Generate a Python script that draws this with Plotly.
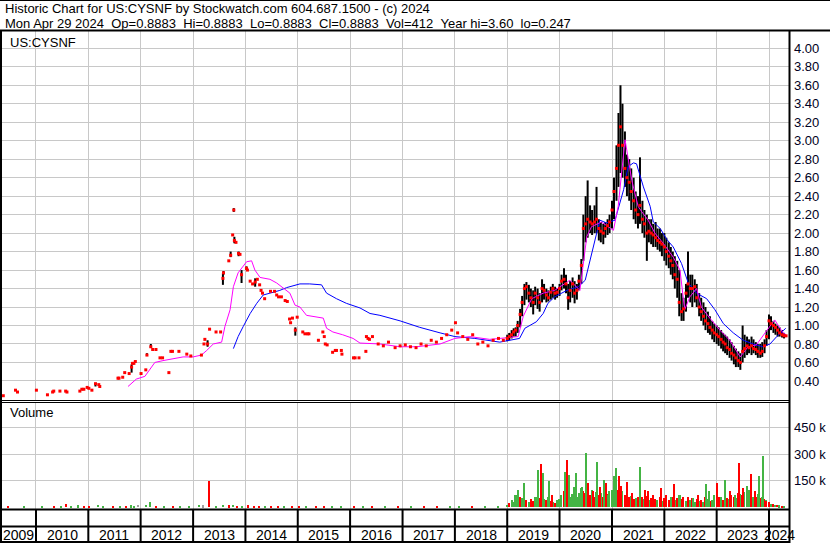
import plotly.graph_objects as go

W, H = 830, 543

# ---------------- data ----------------
header_line1 = "Historic Chart for US:CYSNF by Stockwatch.com 604.687.1500 - (c) 2024"
header_line2 = "Mon Apr 29 2024  Op=0.8883  Hi=0.8883  Lo=0.8883  Cl=0.8883  Vol=412  Year hi=3.60  lo=0.247"
symbol_label = "US:CYSNF"
volume_label = "Volume"

# sparse early trades (single prints)
early_dates = [
    "2009-05-18", "2009-08-11", "2009-08-25", "2010-01-04", "2010-03-22", "2010-04-27", "2010-05-05",
    "2010-06-17", "2010-07-27", "2010-08-05", "2010-11-03", "2010-11-17", "2010-12-01", "2010-12-24",
    "2011-01-05", "2011-01-26", "2011-02-20", "2011-03-15", "2011-03-22", "2011-07-27", "2011-08-03",
    "2011-08-29", "2011-09-12", "2011-10-13", "2011-10-30", "2011-11-05", "2011-11-15", "2011-11-25",
    "2012-01-04", "2012-02-06", "2012-02-14", "2012-03-12", "2012-03-25", "2012-04-17", "2012-05-15",
    "2012-06-02", "2012-07-16", "2012-07-30", "2012-08-10", "2012-09-24", "2012-11-18", "2012-12-16",
    "2013-02-28", "2013-03-18", "2013-03-24", "2013-04-12", "2013-04-26", "2013-06-10", "2013-07-12",
    "2013-07-28", "2013-08-01", "2013-09-07", "2013-09-20", "2013-10-04", "2013-10-12", "2013-10-16",
    "2013-10-27", "2013-11-14", "2013-11-24", "2013-12-05", "2014-01-08", "2014-01-15", "2014-02-03",
    "2014-02-20", "2014-03-10", "2014-03-25", "2014-04-10", "2014-04-20", "2014-04-30", "2014-05-15",
    "2014-06-25", "2014-07-23", "2014-08-07", "2014-08-20", "2014-09-09", "2014-10-05", "2014-10-20",
    "2014-11-05", "2014-11-12", "2014-11-25", "2014-12-15", "2014-12-28", "2015-02-05", "2015-02-20",
    "2015-03-10", "2015-03-20", "2015-05-25", "2015-06-25", "2015-07-05", "2015-07-12", "2015-07-25",
    "2015-09-01", "2015-09-20", "2015-09-28", "2015-11-01", "2015-11-05", "2016-01-25", "2016-02-05",
    "2016-03-03", "2016-04-20", "2016-04-24", "2016-05-05", "2016-05-15", "2016-06-05", "2016-07-15",
    "2016-08-20", "2016-09-25", "2016-11-10", "2016-12-15", "2017-01-20", "2017-02-25", "2017-04-05",
    "2017-05-10", "2017-06-15", "2017-07-20", "2017-08-25", "2017-09-30", "2017-11-05", "2017-12-10",
    "2018-01-05", "2018-01-20", "2018-02-25", "2018-04-01", "2018-05-05", "2018-06-10", "2018-07-15",
    "2018-08-20", "2018-09-25", "2018-11-01", "2018-12-05",
]
early_close = [
    0.24, 0.30, 0.28, 0.30, 0.25, 0.28, 0.29,
    0.29, 0.29, 0.28, 0.29, 0.31, 0.31, 0.33,
    0.32, 0.30, 0.37, 0.36, 0.34, 0.43, 0.43,
    0.44, 0.49, 0.48, 0.55, 0.59, 0.59, 0.61,
    0.48, 0.52, 0.68, 0.77, 0.74, 0.74, 0.65,
    0.65, 0.49, 0.72, 0.72, 0.72, 0.69, 0.67,
    0.68, 0.80, 0.85, 0.80, 0.96, 0.93, 0.93,
    1.51, 1.57, 1.70, 1.76, 1.98, 2.25, 1.92,
    1.90, 1.78, 1.77, 1.55, 1.62, 1.60, 1.48,
    1.45, 1.47, 1.50, 1.44, 1.38, 1.35, 1.29,
    1.37, 1.37, 1.33, 1.31, 1.31, 1.27, 1.26,
    1.07, 1.03, 1.08, 0.95, 1.09, 0.93, 0.91,
    0.91, 0.91, 0.84, 0.93, 0.88, 0.80, 0.79,
    0.71, 0.73, 0.73, 0.73, 0.69, 0.65, 0.65,
    0.65, 0.72, 0.88, 0.86, 0.85, 0.88, 0.80,
    0.78, 0.82, 0.76, 0.78, 0.79, 0.77, 0.76,
    0.80, 0.78, 0.84, 0.82, 0.86, 0.90, 0.95,
    1.03, 0.92, 0.88, 0.85, 0.90, 0.80, 0.82,
    0.78, 0.84, 0.86, 0.84,
]

# early days that traded a range (black bars)
early_bar_dates = ["2011-02-20", "2011-10-30", "2012-02-14", "2012-03-12", "2013-04-12", "2013-07-28",
                   "2013-08-01", "2013-09-20", "2013-10-12", "2013-10-16", "2013-11-14", "2013-12-05",
                   "2014-01-08", "2014-03-10", "2014-11-05", "2014-12-15"]
early_bar_high = [0.38, 0.58, 0.70, 0.80, 0.84, 1.57, 1.59, 1.80, 2.27, 1.96, 1.80, 1.60, 1.64, 1.51, 1.08, 0.98]
early_bar_low = [0.34, 0.49, 0.67, 0.76, 0.77, 1.44, 1.55, 1.74, 2.23, 1.89, 1.75, 1.46, 1.60, 1.42, 1.06, 0.89]

# active trading 2019-2024 (half-monthly high / low / close)
recent_dates = [
    "2019-01-01", "2019-01-15", "2019-02-01", "2019-02-15", "2019-03-01", "2019-03-15", "2019-04-01", "2019-04-15",
    "2019-05-01", "2019-05-15", "2019-06-01", "2019-06-15", "2019-07-01", "2019-07-15", "2019-08-01", "2019-08-15",
    "2019-09-01", "2019-09-15", "2019-10-01", "2019-10-15", "2019-11-01", "2019-11-15", "2019-12-01", "2019-12-15",
    "2020-01-01", "2020-01-15", "2020-02-01", "2020-02-15", "2020-03-01", "2020-03-15", "2020-04-01", "2020-04-15",
    "2020-05-01", "2020-05-15", "2020-06-01", "2020-06-15", "2020-07-01", "2020-07-15", "2020-08-01", "2020-08-15",
    "2020-09-01", "2020-09-15", "2020-10-01", "2020-10-15", "2020-11-01", "2020-11-15", "2020-12-01", "2020-12-15",
    "2021-01-01", "2021-01-15", "2021-02-01", "2021-02-15", "2021-03-01", "2021-03-15", "2021-04-01", "2021-04-15",
    "2021-05-01", "2021-05-15", "2021-06-01", "2021-06-15", "2021-07-01", "2021-07-15", "2021-08-01", "2021-08-15",
    "2021-09-01", "2021-09-15", "2021-10-01", "2021-10-15", "2021-11-01", "2021-11-15", "2021-12-01", "2021-12-15",
    "2022-01-01", "2022-01-15", "2022-02-01", "2022-02-15", "2022-03-01", "2022-03-15", "2022-04-01", "2022-04-15",
    "2022-05-01", "2022-05-15", "2022-06-01", "2022-06-15", "2022-07-01", "2022-07-15", "2022-08-01", "2022-08-15",
    "2022-09-01", "2022-09-15", "2022-10-01", "2022-10-15", "2022-11-01", "2022-11-15", "2022-12-01", "2022-12-15",
    "2023-01-01", "2023-01-15", "2023-02-01", "2023-02-15", "2023-03-01", "2023-03-15", "2023-04-01", "2023-04-15",
    "2023-05-01", "2023-05-15", "2023-06-01", "2023-06-15", "2023-07-01", "2023-07-15", "2023-08-01", "2023-08-15",
    "2023-09-01", "2023-09-15", "2023-10-01", "2023-10-15", "2023-11-01", "2023-11-15", "2023-12-01", "2023-12-15",
    "2024-01-01", "2024-01-15", "2024-02-01", "2024-02-15", "2024-03-01", "2024-03-15", "2024-04-01", "2024-04-15",
    "2024-04-29",
]
recent_high = [
    0.90, 0.92, 0.95, 0.97, 0.98, 1.05, 1.18, 1.32, 1.45, 1.47, 1.44, 1.40, 1.38, 1.42, 1.40, 1.35,
    1.50, 1.45, 1.40, 1.38, 1.42, 1.45, 1.42, 1.40,
    1.45, 1.55, 1.62, 1.55, 1.45, 1.48, 1.52, 1.48, 1.45, 1.55, 1.72, 2.20, 2.40, 2.57, 2.30, 2.25,
    2.30, 2.50, 2.15, 2.12, 2.10, 2.12, 2.15, 2.20,
    2.35, 2.60, 2.95, 3.30, 3.60, 3.40, 3.10, 2.85, 2.80, 2.70, 2.60, 2.45, 2.40, 2.82, 2.35, 2.25,
    2.20, 2.15, 2.15, 2.10, 2.12, 2.05, 2.05, 2.00,
    2.00, 1.95, 1.90, 1.85, 1.80, 1.75, 1.70, 1.60, 1.35, 1.30, 1.45, 1.80, 1.55, 1.55, 1.50, 1.45,
    1.35, 1.30, 1.25, 1.20, 1.15, 1.10, 1.05, 1.02,
    1.00, 0.98, 0.95, 0.92, 0.90, 0.88, 0.85, 0.82, 0.78, 0.75, 0.72, 0.70, 1.00, 0.90, 0.88, 0.85,
    0.88, 0.85, 0.82, 0.80, 0.80, 0.82, 0.85, 0.95,
    1.12, 1.10, 1.05, 1.02, 1.00, 0.98, 0.95, 0.92, 0.89,
]
recent_low = [
    0.83, 0.84, 0.86, 0.88, 0.88, 0.92, 0.98, 1.10, 1.22, 1.28, 1.25, 1.20, 1.12, 1.22, 1.18, 1.15,
    1.25, 1.28, 1.25, 1.26, 1.28, 1.30, 1.28, 1.30,
    1.32, 1.38, 1.40, 1.35, 1.17, 1.25, 1.30, 1.24, 1.28, 1.38, 1.45, 1.70, 1.90, 1.95, 2.00, 1.98,
    2.00, 2.00, 1.92, 1.90, 1.88, 1.95, 1.98, 2.00,
    2.05, 2.15, 2.35, 2.50, 2.65, 2.60, 2.50, 2.40, 2.35, 2.25, 2.15, 2.10, 2.05, 2.10, 2.00, 1.95,
    1.70, 1.90, 1.88, 1.85, 1.85, 1.82, 1.80, 1.75,
    1.70, 1.65, 1.62, 1.55, 1.50, 1.40, 1.30, 1.10, 1.05, 1.05, 1.15, 1.30, 1.25, 1.20, 1.25, 1.20,
    1.10, 1.05, 1.00, 0.95, 0.92, 0.90, 0.85, 0.82,
    0.80, 0.78, 0.75, 0.72, 0.70, 0.68, 0.65, 0.62, 0.58, 0.55, 0.55, 0.52, 0.60, 0.65, 0.68, 0.70,
    0.68, 0.70, 0.68, 0.65, 0.65, 0.66, 0.70, 0.78,
    0.85, 0.95, 0.92, 0.90, 0.88, 0.88, 0.87, 0.86, 0.89,
]
recent_close = [
    0.86, 0.88, 0.90, 0.93, 0.95, 1.00, 1.12, 1.25, 1.40, 1.42, 1.35, 1.30, 1.25, 1.35, 1.30, 1.25,
    1.40, 1.38, 1.33, 1.30, 1.36, 1.40, 1.35, 1.36,
    1.40, 1.48, 1.50, 1.45, 1.30, 1.38, 1.45, 1.35, 1.38, 1.48, 1.65, 2.05, 2.10, 2.15, 2.12, 2.10,
    2.12, 2.15, 2.05, 2.02, 2.00, 2.05, 2.08, 2.12,
    2.25, 2.45, 2.70, 2.95, 3.15, 2.95, 2.70, 2.60, 2.55, 2.45, 2.35, 2.25, 2.20, 2.30, 2.15, 2.10,
    2.00, 2.02, 2.00, 1.98, 1.95, 1.92, 1.90, 1.88,
    1.85, 1.80, 1.75, 1.70, 1.65, 1.55, 1.50, 1.25, 1.15, 1.18, 1.35, 1.45, 1.40, 1.40, 1.42, 1.30,
    1.20, 1.15, 1.10, 1.05, 1.02, 0.98, 0.95, 0.92,
    0.90, 0.88, 0.85, 0.82, 0.80, 0.76, 0.74, 0.70, 0.68, 0.65, 0.62, 0.60, 0.72, 0.75, 0.78, 0.76,
    0.78, 0.75, 0.74, 0.72, 0.70, 0.72, 0.78, 0.88,
    1.05, 1.02, 1.00, 0.98, 0.95, 0.92, 0.90, 0.89, 0.8883,
]

# short moving average (magenta)
ma_short_dates = [
    "2011-10-05", "2011-11-06", "2011-12-02", "2012-01-31", "2012-02-21", "2012-03-18", "2012-04-09",
    "2012-06-05", "2012-08-14", "2012-10-23", "2013-01-01", "2013-02-28", "2013-04-06", "2013-05-22",
    "2013-07-19", "2013-08-11", "2013-09-16", "2013-10-09", "2013-11-11", "2013-12-17", "2014-01-09",
    "2014-02-13", "2014-03-08", "2014-04-13", "2014-06-21", "2014-08-07", "2014-09-22", "2014-11-07",
    "2014-12-13", "2015-01-16", "2015-03-03", "2015-06-28", "2015-07-21", "2015-09-03", "2015-11-10",
    "2016-01-22", "2016-03-10", "2016-07-27", "2016-12-15", "2017-04-10", "2017-09-20", "2018-01-01",
    "2018-04-15", "2018-09-01", "2018-11-10", "2019-03-18", "2019-04-23", "2019-06-21", "2019-09-09",
    "2019-11-28", "2020-03-13", "2020-05-22", "2020-07-09", "2020-08-11", "2020-10-19", "2021-01-11",
    "2021-02-13", "2021-04-02", "2021-05-19", "2021-07-02", "2021-07-28", "2021-09-10", "2021-10-27",
    "2021-12-24", "2022-03-04", "2022-04-20", "2022-05-23", "2022-06-28", "2022-08-14", "2022-09-16",
    "2022-11-14", "2023-01-23", "2023-04-02", "2023-06-14", "2023-08-08", "2023-10-05", "2023-12-14",
    "2024-02-10", "2024-04-08", "2024-04-29",
]
ma_short_vals = [
    0.34, 0.39, 0.42, 0.45, 0.50, 0.55, 0.60,
    0.62, 0.64, 0.66, 0.66, 0.68, 0.73, 0.80,
    0.82, 0.99, 1.17, 1.42, 1.57, 1.65, 1.69,
    1.70, 1.60, 1.52, 1.50, 1.46, 1.40, 1.35,
    1.22, 1.20, 1.11, 1.08, 0.97, 0.93, 0.90,
    0.86, 0.81, 0.80, 0.77, 0.77, 0.80, 0.86,
    0.88, 0.85, 0.86, 0.88, 1.10, 1.29, 1.35,
    1.38, 1.49, 1.38, 1.96, 2.07, 2.12, 2.03,
    2.29, 3.01, 2.57, 2.29, 2.23, 2.14, 2.00,
    1.89, 1.74, 1.60, 1.17, 1.31, 1.40, 1.20,
    1.08, 0.95, 0.84, 0.66, 0.77, 0.79, 0.94,
    1.06, 0.92, 0.90,
]

# long moving average (blue)
ma_long_dates = [
    "2013-10-09", "2013-11-11", "2013-12-17", "2014-02-03", "2014-03-21", "2014-05-05", "2014-06-21",
    "2014-08-29", "2014-10-15", "2014-11-28", "2015-01-16", "2015-03-25", "2015-06-16", "2015-07-21",
    "2015-09-28", "2015-12-06", "2016-03-10", "2016-05-19", "2016-07-27", "2016-12-15", "2017-05-01",
    "2017-09-20", "2018-01-01", "2018-05-20", "2018-11-10", "2019-03-28", "2019-05-04", "2019-07-23",
    "2019-09-09", "2019-10-12", "2019-11-28", "2020-02-21", "2020-05-12", "2020-06-28", "2020-08-11",
    "2020-10-08", "2020-11-24", "2021-01-22", "2021-03-23", "2021-04-23", "2021-05-31", "2021-06-21",
    "2021-08-08", "2021-09-24", "2021-10-16", "2021-12-03", "2022-01-19", "2022-03-04", "2022-05-01",
    "2022-06-17", "2022-08-14", "2022-10-23", "2022-12-20", "2023-02-17", "2023-04-27", "2023-07-05",
    "2023-09-13", "2023-11-19", "2024-01-08", "2024-02-24", "2024-04-27",
]
ma_long_vals = [
    0.75, 0.88, 0.99, 1.13, 1.24, 1.33, 1.35,
    1.38, 1.41, 1.43, 1.45, 1.45, 1.44, 1.35,
    1.29, 1.24, 1.19, 1.13, 1.11, 1.05, 0.98,
    0.92, 0.88, 0.86, 0.82, 0.86, 0.97, 1.04,
    1.13, 1.24, 1.31, 1.38, 1.42, 1.49, 1.78,
    2.14, 2.11, 2.14, 2.47, 2.72, 2.76, 2.75,
    2.50, 2.29, 2.12, 2.05, 1.93, 1.85, 1.67,
    1.46, 1.35, 1.29, 1.17, 1.02, 0.92, 0.84,
    0.80, 0.77, 0.80, 0.88, 0.97,
]

# daily volume sample (u = up day, d = down day, n = unchanged)
vol_dates = [
    "2009-06-20", "2009-10-10", "2010-02-15", "2010-05-10", "2010-06-25", "2010-07-27", "2010-09-05",
    "2010-10-20", "2010-12-01", "2011-01-10", "2011-03-08", "2011-04-15", "2011-06-20", "2011-08-10",
    "2011-09-20", "2011-10-25", "2011-11-20", "2011-12-15", "2012-02-10", "2012-03-08", "2012-04-20",
    "2012-06-10", "2012-08-15", "2012-10-01", "2012-12-01", "2013-02-10", "2013-03-15", "2013-04-20",
    "2013-06-10", "2013-08-01", "2013-09-10", "2013-10-05", "2013-11-01", "2013-12-10", "2014-01-20",
    "2014-03-01", "2014-04-10", "2014-05-20", "2014-07-01", "2014-08-15", "2014-10-01", "2014-11-20",
    "2015-01-10", "2015-03-01", "2015-05-10", "2015-07-01", "2015-09-01", "2015-11-01", "2016-02-01",
    "2016-04-01", "2016-06-01", "2016-09-01", "2016-12-01", "2017-03-01", "2017-06-01", "2017-09-01",
    "2017-12-01", "2018-02-01", "2018-05-01", "2018-08-01", "2018-11-01",
    "2019-01-01", "2019-01-15", "2019-02-01", "2019-02-15", "2019-03-01", "2019-03-15", "2019-04-01", "2019-04-15",
    "2019-05-01", "2019-05-15", "2019-06-01", "2019-06-15", "2019-07-01", "2019-07-15", "2019-08-01", "2019-08-15",
    "2019-09-01", "2019-09-15", "2019-10-01", "2019-10-15", "2019-11-01", "2019-11-15", "2019-12-01", "2019-12-15",
    "2020-01-01", "2020-01-15", "2020-02-01", "2020-02-15", "2020-03-01", "2020-03-15", "2020-04-01", "2020-04-15",
    "2020-05-01", "2020-05-15", "2020-06-01", "2020-06-15", "2020-07-01", "2020-07-15", "2020-08-01", "2020-08-15",
    "2020-09-01", "2020-09-15", "2020-10-01", "2020-10-15", "2020-11-01", "2020-11-15", "2020-12-01", "2020-12-15",
    "2021-01-01", "2021-01-15", "2021-02-01", "2021-02-15", "2021-03-01", "2021-03-15", "2021-04-01", "2021-04-15",
    "2021-05-01", "2021-05-15", "2021-06-01", "2021-06-15", "2021-07-01", "2021-07-15", "2021-08-01", "2021-08-15",
    "2021-09-01", "2021-09-15", "2021-10-01", "2021-10-15", "2021-11-01", "2021-11-15", "2021-12-01", "2021-12-15",
    "2022-01-01", "2022-01-15", "2022-02-01", "2022-02-15", "2022-03-01", "2022-03-15", "2022-04-01", "2022-04-15",
    "2022-05-01", "2022-05-15", "2022-06-01", "2022-06-15", "2022-07-01", "2022-07-15", "2022-08-01", "2022-08-15",
    "2022-09-01", "2022-09-15", "2022-10-01", "2022-10-15", "2022-11-01", "2022-11-15", "2022-12-01", "2022-12-15",
    "2023-01-01", "2023-01-15", "2023-02-01", "2023-02-15", "2023-03-01", "2023-03-15", "2023-04-01", "2023-04-15",
    "2023-05-01", "2023-05-15", "2023-06-01", "2023-06-15", "2023-07-01", "2023-07-15", "2023-08-01", "2023-08-15",
    "2023-09-01", "2023-09-15", "2023-10-01", "2023-10-15", "2023-11-01", "2023-11-15", "2023-12-01", "2023-12-15",
    "2024-01-01", "2024-01-15", "2024-02-01", "2024-02-15", "2024-03-01", "2024-03-15", "2024-04-01", "2024-04-15",
    "2019-02-24", "2019-03-21", "2019-04-27", "2019-08-03", "2019-08-29", "2019-09-09", "2019-10-23", "2019-11-10",
    "2020-02-08", "2020-02-22", "2020-03-08", "2020-04-11", "2020-04-29", "2020-06-05", "2020-07-04", "2020-07-20",
    "2020-08-19", "2020-09-17", "2020-10-12", "2020-11-04", "2020-11-19", "2020-12-07",
    "2021-01-13", "2021-01-31", "2021-02-18", "2021-03-09", "2021-04-15", "2021-05-22", "2021-07-16", "2021-08-22",
    "2021-09-10", "2021-10-16", "2021-12-11",
    "2022-01-17", "2022-03-13", "2022-04-19", "2022-06-13", "2022-07-19", "2022-08-25", "2022-10-19", "2022-11-06",
    "2022-12-13",
    "2023-01-02", "2023-02-27", "2023-04-04", "2023-05-11", "2023-06-10", "2023-07-05", "2023-07-31", "2023-08-29",
    "2023-09-27", "2023-10-23", "2023-11-19", "2023-12-10",
]
vol_values = [
    5000, 4000, 6000, 8000, 6000, 18000, 5000,
    10000, 8000, 6000, 14000, 5000, 4000, 8000,
    6000, 10000, 7000, 12000, 12000, 30000, 8000,
    5000, 6000, 4000, 6000, 15000, 10000, 150000,
    8000, 12000, 10000, 15000, 8000, 6000, 10000,
    9000, 7000, 5000, 6000, 5000, 4000, 8000,
    5000, 4000, 6000, 5000, 4000, 7000, 5000,
    6000, 4000, 4000, 3000, 5000, 4000, 6000,
    8000, 9000, 5000, 6000, 8000,
    15000, 25000, 40000, 30000, 70000, 95000, 60000, 50000,
    80000, 40000, 30000, 45000, 35000, 55000, 60000, 50000,
    70000, 45000, 40000, 60000, 35000, 30000, 25000, 40000,
    45000, 70000, 90000, 60000, 80000, 55000, 75000, 65000,
    60000, 80000, 110000, 90000, 80000, 100000, 70000, 95000,
    60000, 85000, 70000, 80000, 55000, 65000, 75000, 90000,
    100000, 85000, 120000, 95000, 110000, 90000, 70000, 60000,
    55000, 65000, 45000, 50000, 60000, 70000, 55000, 45000,
    65000, 40000, 50000, 35000, 45000, 40000, 55000, 35000,
    50000, 45000, 40000, 55000, 60000, 40000, 50000, 70000,
    45000, 60000, 35000, 55000, 40000, 50000, 30000, 45000,
    35000, 40000, 30000, 55000, 45000, 35000, 40000, 50000,
    45000, 60000, 55000, 40000, 65000, 50000, 45000, 70000,
    60000, 50000, 80000, 75000, 70000, 85000, 60000, 95000,
    70000, 55000, 60000, 75000, 50000, 60000, 45000, 40000,
    30000, 20000, 18000, 12000, 15000, 10000, 8000, 6000,
    69000, 97000, 137000, 210000, 245000, 192000, 150000, 69000,
    200000, 267000, 183000, 112000, 192000, 112000, 305000, 137000,
    94000, 258000, 112000, 154000, 137000, 69000,
    174000, 220000, 174000, 120000, 143000, 80000, 229000, 100000,
    94000, 69000, 110000,
    69000, 130000, 69000, 60000, 52000, 69000, 130000, 94000,
    69000,
    137000, 154000, 94000, 69000, 248000, 110000, 120000, 187000,
    94000, 174000, 290000, 35000,
]
vol_dir = [
    "d", "u", "u", "d", "u", "d", "u",
    "u", "d", "d", "u", "u", "d", "u",
    "d", "u", "u", "n", "u", "u", "d",
    "u", "d", "u", "u", "u", "n", "d",
    "u", "u", "d", "u", "d", "u", "d",
    "d", "d", "u", "d", "d", "u", "d",
    "d", "u", "d", "d", "u", "u", "d",
    "u", "d", "u", "d", "u", "d", "d",
    "u", "u", "d", "u", "u",
    "u", "d", "u", "u", "u", "u", "d", "u",
    "u", "d", "u", "d", "d", "u", "u", "d",
    "d", "u", "d", "u", "d", "u", "d", "u",
    "u", "u", "d", "u", "d", "u", "u", "d",
    "u", "u", "u", "d", "d", "u", "d", "u",
    "d", "u", "d", "u", "d", "u", "d", "u",
    "u", "d", "u", "d", "d", "u", "d", "u",
    "d", "u", "d", "u", "d", "u", "d", "u",
    "d", "u", "d", "u", "d", "u", "d", "u",
    "d", "u", "d", "u", "d", "u", "d", "u",
    "d", "d", "u", "d", "u", "d", "u", "d",
    "u", "d", "u", "d", "u", "d", "u", "d",
    "u", "d", "u", "d", "u", "d", "u", "d",
    "d", "u", "d", "u", "d", "u", "d", "u",
    "d", "u", "d", "u", "d", "u", "d", "u",
    "d", "u", "d", "u", "d", "u", "d", "u",
    "u", "u", "u", "u", "d", "u", "u", "d",
    "u", "d", "u", "u", "u", "u", "u", "d",
    "d", "u", "d", "u", "d", "u",
    "u", "u", "d", "d", "d", "d", "u", "d",
    "d", "d", "d",
    "d", "d", "u", "d", "u", "d", "u", "u",
    "u",
    "d", "u", "d", "u", "d", "d", "u", "d",
    "d", "u", "u", "d",
]

price_ticks = [0.40, 0.60, 0.80, 1.00, 1.20, 1.40, 1.60, 1.80, 2.00, 2.20,
               2.40, 2.60, 2.80, 3.00, 3.20, 3.40, 3.60, 3.80, 4.00]
vol_ticks = [150000, 300000, 450000]
vol_tick_labels = ["150 k", "300 k", "450 k"]
year_labels = [2009, 2010, 2011, 2012, 2013, 2014, 2015, 2016, 2017, 2018, 2019, 2020, 2021, 2022, 2023, 2024]

# ---------------- layout helpers ----------------
X_RANGE = ["2009-05-09", "2024-05-19 12:00"]
FONT = "Liberation Sans, Arial, sans-serif"
GRID = "#c8c8c8"


def pxx(x):
    return x / W


def pxy(y):
    return 1 - y / H


PRICE_DOM = [pxy(400), pxy(31)]
VOL_DOM = [pxy(509), pxy(403)]
PLOT_X_DOM = [pxx(2), pxx(789)]

fig = go.Figure()

# price bars (high-low)
seg_x, seg_y = [], []
for d, hi, lo in zip(early_bar_dates, early_bar_high, early_bar_low):
    seg_x += [d, d, None]
    seg_y += [lo, hi, None]
for d, hi, lo in zip(recent_dates, recent_high, recent_low):
    seg_x += [d, d, None]
    seg_y += [lo, hi, None]
fig.add_trace(go.Scatter(x=seg_x, y=seg_y, mode="lines", line=dict(color="black", width=2),
                         xaxis="x", yaxis="y", hoverinfo="skip", showlegend=False))

# moving averages
fig.add_trace(go.Scatter(x=ma_long_dates, y=ma_long_vals, mode="lines",
                         line=dict(color="#0000ff", width=1), xaxis="x", yaxis="y", showlegend=False))
fig.add_trace(go.Scatter(x=ma_short_dates, y=ma_short_vals, mode="lines",
                         line=dict(color="#ff00ff", width=1), xaxis="x", yaxis="y", showlegend=False))

# closes (red ticks)
fig.add_trace(go.Scatter(x=early_dates + recent_dates, y=early_close + recent_close, mode="markers",
                         marker=dict(symbol="square", size=3, color="#ff0000", line=dict(width=0)),
                         xaxis="x", yaxis="y", showlegend=False))

# volume
dir_color = {"u": "#44b444", "d": "#ff0000", "n": "#a0a0a0"}
fig.add_trace(go.Bar(x=vol_dates, y=vol_values, marker=dict(color=[dir_color[c] for c in vol_dir], line=dict(width=0)),
                     width=9 * 86400000, xaxis="x2", yaxis="y2", showlegend=False))

xcommon = dict(type="date", range=X_RANGE, domain=PLOT_X_DOM, showgrid=True, gridcolor=GRID, gridwidth=1,
               dtick="M12", tick0="2010-01-01", showticklabels=False, ticks="", zeroline=False, showline=False)
fig.update_layout(
    width=W, height=H, margin=dict(l=0, r=0, t=0, b=0),
    paper_bgcolor="white", plot_bgcolor="white", bargap=0, barmode="overlay",
    xaxis=dict(**xcommon, anchor="y"),
    xaxis2=dict(**xcommon, anchor="y2", matches="x"),
    yaxis=dict(domain=PRICE_DOM, range=[0.1937, 4.1872], side="right", anchor="x",
               tickvals=price_ticks, ticktext=["%.2f" % v for v in price_ticks],
               showgrid=True, gridcolor=GRID, gridwidth=1, zeroline=False, showline=False, ticks="",
               ticklabelstandoff=4, tickfont=dict(family=FONT, size=13, color="#000022")),
    yaxis2=dict(domain=VOL_DOM, range=[-10200, 589800], side="right", anchor="x2",
                tickvals=vol_ticks, ticktext=vol_tick_labels,
                showgrid=True, gridcolor=GRID, gridwidth=1, zeroline=False, showline=False, ticks="",
                ticklabelstandoff=4, tickfont=dict(family=FONT, size=13, color="#000022")),
    font=dict(family=FONT, color="black"),
)

shapes = []


def hline(y, x0, x1, w):
    shapes.append(dict(type="line", xref="paper", yref="paper", x0=pxx(x0), x1=pxx(x1), y0=pxy(y), y1=pxy(y),
                       line=dict(color="black", width=w)))


def vline(x, y0, y1, w):
    shapes.append(dict(type="line", xref="paper", yref="paper", x0=pxx(x), x1=pxx(x), y0=pxy(y0), y1=pxy(y1),
                       line=dict(color="black", width=w)))


hline(0.5, 0, 830, 1)
hline(30.5, 0, 830, 2)
vline(1, 30, 543, 2)
vline(789.5, 30, 543, 2)
hline(400.5, 0, 789, 1)
hline(402.5, 0, 789, 1)
hline(509.5, 0, 789, 2)
hline(526.5, 0, 789, 2)
hline(542, 0, 789, 2)
for yr in year_labels[1:]:
    shapes.append(dict(type="line", xref="x", yref="paper", x0=f"{yr}-01-01", x1=f"{yr}-01-01",
                       y0=pxy(543), y1=pxy(510), line=dict(color="black", width=2)))

annotations = [
    dict(text=header_line1.replace("  ", "\u00a0\u00a0"), x=pxx(3), y=pxy(8.5)),
    dict(text=header_line2.replace("  ", "\u00a0\u00a0"), x=pxx(3), y=pxy(23)),
    dict(text=symbol_label, x=pxx(8), y=pxy(42)),
    dict(text=volume_label, x=pxx(8), y=pxy(413)),
]
for a in annotations:
    a.update(xref="paper", yref="paper", xanchor="left", yanchor="middle", showarrow=False,
             font=dict(family=FONT, size=13, color="black"))

# year labels centred in the visible part of each year
import datetime as _dt
r0 = _dt.datetime.fromisoformat(X_RANGE[0])
r1 = _dt.datetime.fromisoformat(X_RANGE[1])
for yr in year_labels:
    s = max(_dt.datetime(yr, 1, 1), r0)
    e = min(_dt.datetime(yr + 1, 1, 1), r1)
    mid = s + (e - s) / 2
    annotations.append(dict(text=str(yr), x=mid.strftime("%Y-%m-%d %H:%M"), y=pxy(534.5), xref="x", yref="paper",
                            xanchor="center", yanchor="middle", showarrow=False,
                            font=dict(family=FONT, size=14, color="black")))

fig.update_layout(shapes=shapes, annotations=annotations)
fig.write_html("out.html", config={"displayModeBar": False},
               post_script="document.body.style.margin='0';document.body.style.overflow='hidden';")
